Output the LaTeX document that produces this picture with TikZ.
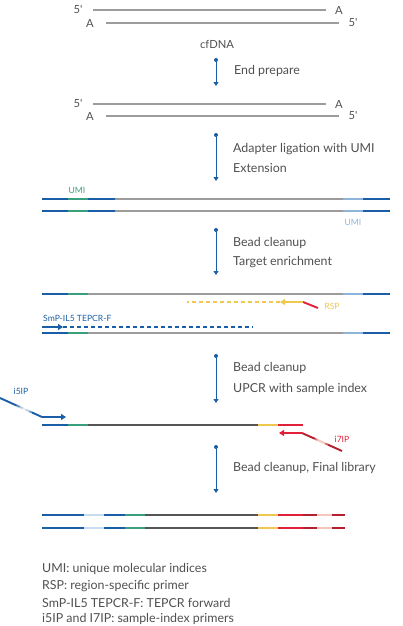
\documentclass[tikz,border=0pt]{standalone}
\usepackage{fontspec}
\setmainfont{Lato}
\usetikzlibrary{arrows.meta,calc}
\definecolor{dblue}{HTML}{1B5EA8}
\definecolor{lblue}{HTML}{8FB4DC}
\definecolor{pblue}{HTML}{C8DDF0}
\definecolor{umigreen}{HTML}{3A9F7F}
\definecolor{dnagrey}{HTML}{9C9C9C}
\definecolor{dkgrey}{HTML}{555555}
\definecolor{ylw}{HTML}{F0C850}
\definecolor{rd}{HTML}{E2203A}
\definecolor{dkrd}{HTML}{B4202F}
\definecolor{pnk}{HTML}{F5C5BE}
\definecolor{txt}{HTML}{505050}
\tikzset{
  seg/.style={line width=2.8pt},
  dna/.style={line width=2.8pt, dnagrey},
  maintext/.style={text=txt, font=\fontsize{12.4}{14}\selectfont, anchor=west, inner sep=0pt},
  endlbl/.style={text=txt, font=\fontsize{11.2}{13}\selectfont, inner sep=0pt},
  smalllbl/.style={font=\fontsize{8.6}{10}\selectfont, inner sep=0pt},
  steparrow/.style={dblue, line width=0.9pt, -{Triangle[length=4pt,width=5pt]}},
  stepdot/.style={circle, fill=dblue, inner sep=0pt, minimum size=4pt},
  primer/.style={line width=1.9pt},
  primerdash/.style={line width=1.9pt, dash pattern=on 4pt off 3pt},
}
\begin{document}
\begin{tikzpicture}[x=1pt,y=-1pt]
\useasboundingbox (0,0) rectangle (403,626);

% ---- cfDNA
\draw[dna] (93,10) -- (326,10);
\draw[dna] (106,23) -- (339,23);
\node[endlbl] (t1a) at (78,10) {5\textquotesingle};
\node[endlbl] (t1b) at (90,23) {A};
\node[endlbl] (t1c) at (339,10) {A};
\node[endlbl] (t1d) at (353,23) {5\textquotesingle};
\node[endlbl] (cf) at (217,44) {cfDNA};

% ---- step 1
\node[stepdot] (d1) at (216,60) {};
\coordinate (e1) at (216,86);
\draw[steparrow] (d1) -- (e1);
\node[maintext] (s1) at (234,71) {End prepare};

% ---- end prepared DNA
\draw[dna] (93,104) -- (326,104);
\draw[dna] (106,116) -- (339,116);
\node[endlbl] (t2a) at (78,104) {5\textquotesingle};
\node[endlbl] (t2b) at (90,116) {A};
\node[endlbl] (t2c) at (339,104) {A};
\node[endlbl] (t2d) at (353,116) {5\textquotesingle};

% ---- step 2
\node[stepdot] (d2) at (216,135) {};
\coordinate (e2) at (216,181);
\draw[steparrow] (d2) -- (e2);
\node[maintext] (s2a) at (233,149) {Adapter ligation with UMI};
\node[maintext] (s2b) at (233,168) {Extension};

% ---- ligated
\node[smalllbl, text=umigreen] (umi1) at (77,190) {UMI};
\foreach \yy in {199,211}{
  \draw[seg, dblue] (42,\yy) -- (68,\yy);
  \draw[seg, umigreen] (68,\yy) -- (88,\yy);
  \draw[seg, dblue] (88,\yy) -- (115,\yy);
  \draw[seg, dnagrey] (115,\yy) -- (343,\yy);
  \draw[seg, lblue] (343,\yy) -- (363,\yy);
  \draw[seg, dblue] (363,\yy) -- (390,\yy);
}
\node[smalllbl, text=lblue] (umi2) at (353,222) {UMI};

% ---- step 3
\node[stepdot] (d3) at (216,230) {};
\coordinate (e3) at (216,275);
\draw[steparrow] (d3) -- (e3);
\node[maintext] (s3a) at (233,243) {Bead cleanup};
\node[maintext] (s3b) at (233,262) {Target enrichment};

% ---- target enrichment
\foreach \yy in {294,333}{
  \draw[seg, dblue] (42,\yy) -- (68,\yy);
  \draw[seg, umigreen] (68,\yy) -- (88,\yy);
  \draw[seg, dnagrey] (88,\yy) -- (343,\yy);
  \draw[seg, lblue] (343,\yy) -- (363,\yy);
  \draw[seg, dblue] (363,\yy) -- (390,\yy);
}
% RSP primer
\coordinate (rspA) at (318,308);
\coordinate (rspB) at (303,302);
\coordinate (rspC) at (280,302);
\coordinate (rspD) at (187,302);
\draw[primer, rd] (rspA) -- (rspB);
\draw[primer, ylw, -{Triangle[length=5pt,width=6pt]}] (rspB) -- (rspC);
\draw[primerdash, ylw] (rspC) -- (rspD);
\node[smalllbl, text=ylw] (rsp) at (332,306) {RSP};
% SmP primer
\node[smalllbl, text=dblue, anchor=west] (smp) at (43,318) {SmP-IL5 TEPCR-F};
\coordinate (smA) at (42,327);
\coordinate (smB) at (63,327);
\coordinate (smC) at (253,327);
\draw[primer, dblue, -{Triangle[length=5pt,width=6pt]}] (smA) -- (smB);
\draw[primerdash, dblue] (smB) -- (smC);

% ---- step 4
\node[stepdot] (d4) at (216,356) {};
\coordinate (e4) at (216,403);
\draw[steparrow] (d4) -- (e4);
\node[maintext] (s4a) at (233,368) {Bead cleanup};
\node[maintext] (s4b) at (233,389) {UPCR with sample index};

% ---- UPCR
\draw[seg, dblue] (42,425) -- (68,425);
\draw[seg, umigreen] (68,425) -- (88,425);
\draw[seg, dkgrey] (88,425) -- (258,425);
\draw[seg, ylw] (258,425) -- (278,425);
\draw[seg, rd] (278,425) -- (303,425);
% i5IP primer
\node[smalllbl, text=dblue] (i5) at (21,391) {i5IP};
\coordinate (i5A) at (0,398);
\coordinate (i5B) at (42,417);
\coordinate (i5C) at (66,417);
\foreach \a/\b/\c in {0/0.40/100,0.40/0.47/70,0.47/0.54/35,0.54/0.62/12,0.62/0.70/30,0.70/0.76/65,0.76/1.0/100}{
  \draw[primer, dblue!\c!white] ($(i5A)!\a!(i5B)$) -- ($(i5A)!\b!(i5B)$);
}
\draw[primer, dblue, -{Triangle[length=5pt,width=6pt]}] (i5B) -- (i5C);
% i7IP primer
\node[smalllbl, text=rd] (i7) at (342,439) {i7IP};
\coordinate (i7A) at (342,451);
\coordinate (i7B) at (302,433);
\coordinate (i7C) at (279,433);
\foreach \a/\b/\c in {0/0.35/100,0.35/0.42/60,0.42/0.62/0,0.62/0.68/50,0.68/1.0/100}{
  \draw[primer, dkrd!\c!pnk] ($(i7A)!\a!(i7B)$) -- ($(i7A)!\b!(i7B)$);
}
\draw[primer, rd, -{Triangle[length=5pt,width=6pt]}] (i7B) -- (i7C);

% ---- step 5
\node[stepdot] (d5) at (216,447) {};
\coordinate (e5) at (216,493);
\draw[steparrow] (d5) -- (e5);
\node[maintext] (s5) at (233,468) {Bead cleanup, Final library};

% ---- final library
\foreach \yy in {515,528}{
  \draw[seg, dblue] (42,\yy) -- (84,\yy);
  \draw[seg, pblue] (84,\yy) -- (104,\yy);
  \draw[seg, dblue] (104,\yy) -- (125,\yy);
  \draw[seg, umigreen] (125,\yy) -- (145,\yy);
  \draw[seg, dkgrey] (145,\yy) -- (258,\yy);
  \draw[seg, ylw] (258,\yy) -- (278,\yy);
  \draw[seg, rd] (278,\yy) -- (303,\yy);
  \draw[seg, dkrd] (303,\yy) -- (317,\yy);
  \draw[seg, pnk] (317,\yy) -- (332,\yy);
  \draw[seg, dkrd] (332,\yy) -- (345,\yy);
}

% ---- legend
\node[maintext] (l1) at (42,569) {UMI: unique molecular indices};
\node[maintext] (l2) at (42,586) {RSP: region-specific primer};
\node[maintext] (l3) at (42,603) {SmP-IL5 TEPCR-F: TEPCR forward};
\node[maintext] (l4) at (42,619) {i5IP and I7IP: sample-index primers};
\end{tikzpicture}
\end{document}
